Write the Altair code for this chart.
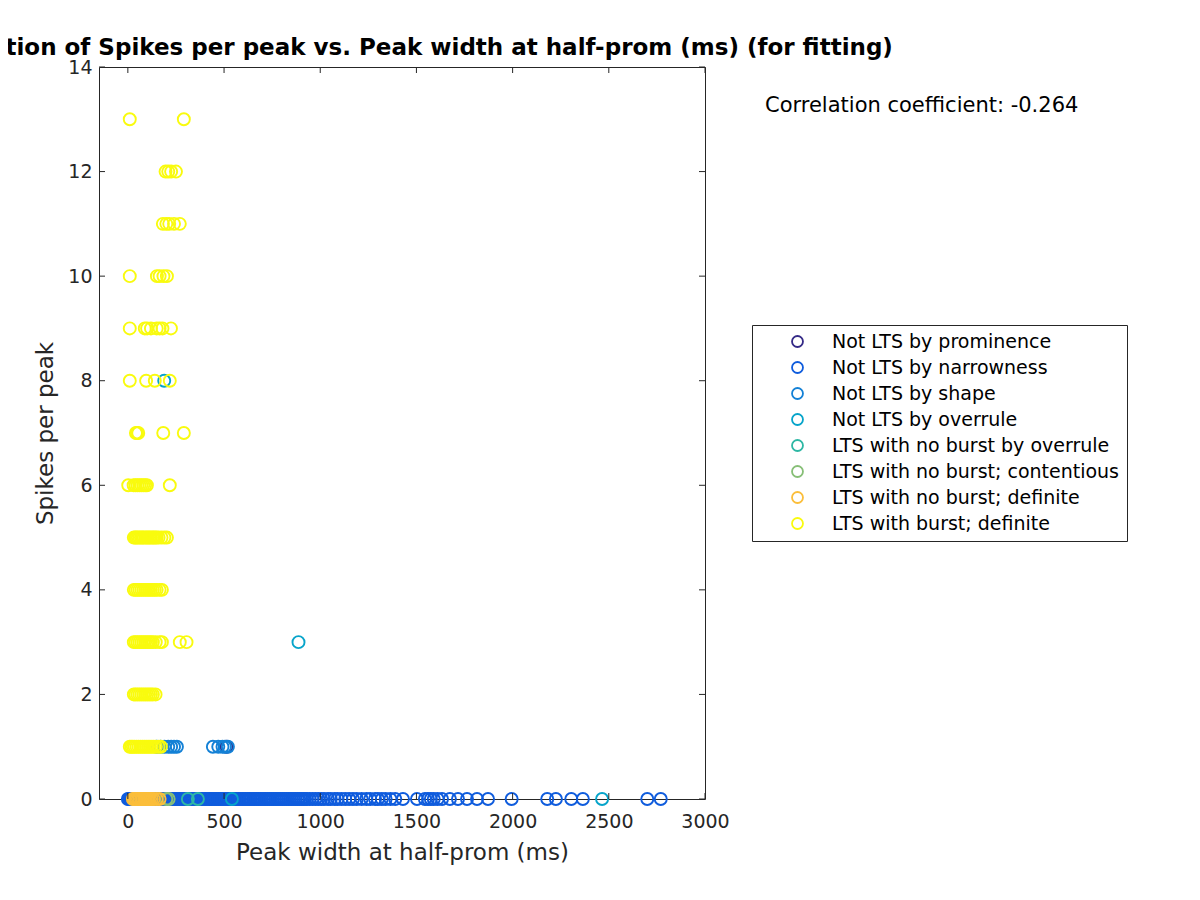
import altair as alt
import pandas as pd

categories = [
    "Not LTS by prominence",
    "Not LTS by narrowness",
    "Not LTS by shape",
    "Not LTS by overrule",
    "LTS with no burst by overrule",
    "LTS with no burst; contentious",
    "LTS with no burst; definite",
    "LTS with burst; definite",
]
colors = ["#352a87", "#0f5cdd", "#1481d6", "#06a4ca", "#2eb7a4", "#87bf77", "#fbbe3b", "#f9fb0e"]

# x values (peak width, ms) for each category at each spikes-per-peak level
prominence_y0 = [218]
prominence_y1 = [513]

narrowness_y0 = [
    0, 6, 12, 18, 25, 33, 40, 47, 55, 62, 70, 78, 85, 93, 100, 108, 117, 125, 133, 141,
    150, 158, 166, 175, 183, 192, 200, 209, 217, 226, 235, 243, 252, 260, 270, 279, 288,
    297, 305, 315, 324, 333, 342, 351, 360, 370, 379, 388, 397, 406, 416, 425, 434, 443,
    452, 462, 471, 480, 490, 499, 508, 518, 527, 536, 546, 555, 565, 574, 583, 593, 602,
    612, 621, 631, 640, 650, 659, 669, 678, 688, 697, 707, 716, 726, 736, 745, 755, 765,
    774, 784, 794, 803, 813, 823, 833, 842, 852, 862, 872, 882, 891, 901, 911, 921, 931,
    945, 960, 975, 990, 1005, 1020, 1040, 1055, 1075, 1090, 1110, 1130, 1150, 1170, 1190,
    1215, 1240, 1260, 1285, 1300, 1320, 1340, 1365, 1390, 1430, 1503, 1544, 1560, 1575,
    1590, 1610, 1633, 1674, 1716, 1763, 1815, 1872, 1995, 2180, 2225, 2305, 2365, 2700, 2770,
]

shape_y1 = [150, 170, 190, 210, 225, 240, 255, 442, 470, 492, 505, 520]

overrule_y0 = [541, 2465]
overrule_y3 = [887]
overrule_y8 = [189]

nb_overrule_y0 = [312, 364]
nb_contentious_y0 = [200, 212]
nb_definite_y0 = [26, 32, 38, 45, 52, 60, 68, 76, 84, 92, 100, 108, 116, 125, 135, 150, 165]

burst_y1 = [10, 18, 26, 35, 45, 55, 65, 75, 85, 95, 105, 115, 125, 135, 146, 160, 172]
burst_y2 = [31, 40, 50, 60, 70, 80, 90, 100, 110, 120, 130, 144]
burst_y3 = [31, 40, 50, 60, 70, 80, 90, 100, 110, 120, 130, 145, 165, 177, 270, 305]
burst_y4 = [31, 40, 50, 60, 70, 80, 90, 100, 110, 120, 130, 140, 150, 165, 177]
burst_y5 = [31, 38, 45, 52, 60, 68, 75, 82, 90, 98, 105, 112, 120, 128, 135, 142, 150, 160, 175, 190, 203]
burst_y6 = [2, 30, 40, 50, 60, 70, 80, 90, 99, 218]
burst_y7 = [42, 48, 54, 184, 291]
burst_y8 = [10, 95, 140, 218]
burst_y9 = [10, 88, 100, 120, 150, 165, 180, 224]
burst_y10 = [10, 151, 165, 185, 203]
burst_y11 = [182, 200, 215, 240, 270]
burst_y12 = [196, 210, 225, 250]
burst_y13 = [10, 291]

x_ticks = [0, 500, 1000, 1500, 2000, 2500, 3000]
y_ticks = [0, 2, 4, 6, 8, 10, 12, 14]

corr_text = "Correlation coefficient: -0.264"
title_text = "Correlation of Spikes per peak vs. Peak width at half-prom (ms) (for fitting)"

groups = [
    (0, 0, prominence_y0), (0, 1, prominence_y1),
    (1, 0, narrowness_y0),
    (2, 1, shape_y1),
    (3, 0, overrule_y0), (3, 3, overrule_y3), (3, 8, overrule_y8),
    (4, 0, nb_overrule_y0),
    (5, 0, nb_contentious_y0),
    (6, 0, nb_definite_y0),
    (7, 1, burst_y1), (7, 2, burst_y2), (7, 3, burst_y3), (7, 4, burst_y4),
    (7, 5, burst_y5), (7, 6, burst_y6), (7, 7, burst_y7), (7, 8, burst_y8),
    (7, 9, burst_y9), (7, 10, burst_y10), (7, 11, burst_y11), (7, 12, burst_y12),
    (7, 13, burst_y13),
]
rows = []
k = 0
for ci, yv, xs in groups:
    for xv in xs:
        rows.append({"width": xv, "spikes": yv, "category": categories[ci], "k": k})
        k += 1
df = pd.DataFrame(rows)

W, H = 606, 732
xscale = alt.Scale(domain=[-150, 3000], nice=False, zero=False)
yscale = alt.Scale(domain=[0, 14], nice=False, zero=False)

axis_common = dict(
    labelFont="DejaVu Sans", labelFontSize=19, labelColor="#262626",
    titleFont="DejaVu Sans", titleFontSize=23, titleColor="#262626", titleFontWeight="normal",
    ticks=False, domain=False, grid=False, format="d", labelFlush=False, labelOverlap=False,
)
x_axis = alt.Axis(values=x_ticks, title="Peak width at half-prom (ms)", labelPadding=13,
                  titleX=W / 2, titleY=53, titleBaseline="middle", titleAlign="center",
                  **axis_common)
y_axis = alt.Axis(values=y_ticks, title="Spikes per peak", labelPadding=7,
                  titleX=-54, titleY=H / 2, titleAngle=-90, titleBaseline="middle",
                  titleAlign="center", **axis_common)

points = alt.Chart(df).mark_point(
    shape="circle", filled=False, size=145, strokeWidth=1.9, opacity=1
).encode(
    x=alt.X("width:Q", scale=xscale, axis=x_axis),
    y=alt.Y("spikes:Q", scale=yscale, axis=y_axis),
    color=alt.Color("category:N", scale=alt.Scale(domain=categories, range=colors),
                    legend=alt.Legend(
                        title=None, orient="none", legendX=653, legendY=258,
                        strokeColor="#262626", fillColor="white", padding=7,
                        labelFont="DejaVu Sans", labelFontSize=19, labelColor="black",
                        symbolType="circle", symbolSize=120, symbolStrokeWidth=1.8,
                        rowPadding=6, symbolOffset=29, labelOffset=25, labelLimit=400,
                    )),
    order=alt.Order("k:Q"),
)

xt = pd.DataFrame({"width": x_ticks})
yt = pd.DataFrame({"spikes": y_ticks})
tick_style = dict(color="#262626", strokeWidth=1)
bottom_ticks = alt.Chart(xt).mark_rule(**tick_style).encode(
    x=alt.X("width:Q", scale=xscale, axis=x_axis), y=alt.value(H), y2=alt.value(H - 6))
top_ticks = alt.Chart(xt).mark_rule(**tick_style).encode(
    x=alt.X("width:Q", scale=xscale, axis=x_axis), y=alt.value(0), y2=alt.value(6))
left_ticks = alt.Chart(yt).mark_rule(**tick_style).encode(
    y=alt.Y("spikes:Q", scale=yscale, axis=y_axis), x=alt.value(0), x2=alt.value(6))
right_ticks = alt.Chart(yt).mark_rule(**tick_style).encode(
    y=alt.Y("spikes:Q", scale=yscale, axis=y_axis), x=alt.value(W), x2=alt.value(W - 6))

corr = alt.Chart(pd.DataFrame({"t": [corr_text]})).mark_text(
    align="left", baseline="middle", fontSize=21, font="DejaVu Sans", color="black"
).encode(x=alt.value(666), y=alt.value(39), text="t:N")

chart = alt.layer(points, bottom_ticks, top_ticks, left_ticks, right_ticks, corr).properties(
    width=W, height=H,
    title=alt.TitleParams(title_text, font="DejaVu Sans", fontSize=23, fontWeight="bold",
                          color="black", anchor="middle", baseline="alphabetic", offset=-20),
    autosize=alt.AutoSizeParams(type="none"),
    padding={"left": 91, "top": 59, "right": 480, "bottom": 90},
).configure(background="white").configure_view(stroke="#262626", strokeWidth=1)

chart.save("out.html", embed_options={"renderer": "svg", "actions": False})
